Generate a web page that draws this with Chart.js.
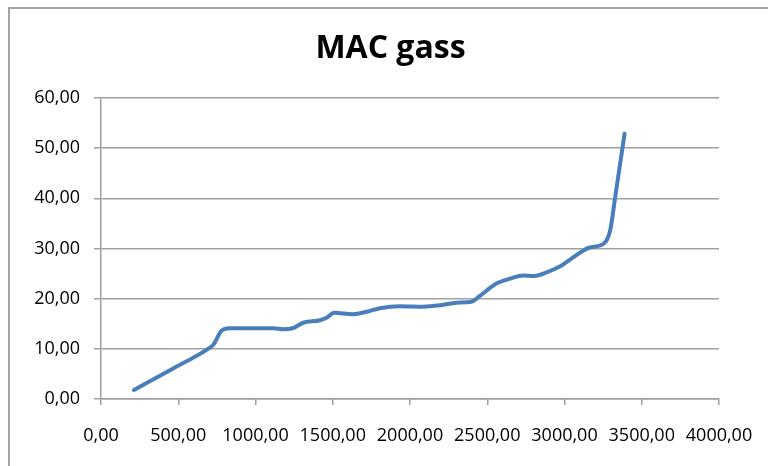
<!DOCTYPE html>
<html>
<head>
<meta charset="utf-8">
<script src="https://cdn.jsdelivr.net/npm/chart.js@4.4.1/dist/chart.umd.min.js"></script>
<style>
  html, body { margin: 0; padding: 0; background: #fff; overflow: hidden; }
  #wrap { position: relative; width: 768px; height: 466px; }
  #frame { position: absolute; left: 8px; top: 7px; width: 900px; height: 600px;
           border: 2px solid #a3a3a3; box-sizing: border-box; pointer-events: none; }
  canvas { position: absolute; left: 0; top: 0; }
</style>
</head>
<body>
<div id="wrap">
  <canvas id="c" width="768" height="466"></canvas>
  <div id="frame"></div>
</div>
<script>
const chartTitle = 'MAC gass';
const xValues = [213, 450, 683, 727, 780, 834, 1000, 1114, 1180, 1240, 1309, 1417, 1460, 1510, 1630, 1720, 1805, 1934, 2085, 2200, 2300, 2398, 2450, 2559, 2650, 2732, 2800, 2880, 2969, 3060, 3163, 3255, 3297, 3325, 3357, 3389];
const yValues = [1.8, 5.8, 9.8, 10.8, 13.6, 14.1, 14.1, 14.1, 13.9, 14.1, 15.2, 15.7, 16.2, 17.2, 16.9, 17.4, 18.1, 18.5, 18.4, 18.7, 19.2, 19.4, 20.5, 23.0, 24.0, 24.6, 24.5, 25.2, 26.4, 28.3, 30.2, 31.0, 33.8, 39.6, 46.3, 52.9];
const xTickValues = [0, 500, 1000, 1500, 2000, 2500, 3000, 3500, 4000];
const xTickLabels = ['0,00', '500,00', '1000,00', '1500,00', '2000,00', '2500,00', '3000,00', '3500,00', '4000,00'];
const yTickValues = [0, 10, 20, 30, 40, 50, 60];
const yTickLabels = ['0,00', '10,00', '20,00', '30,00', '40,00', '50,00', '60,00'];

const points = xValues.map((x, i) => ({ x: x, y: yValues[i] }));
const tickFont = { family: 'Open Sans', size: 18 };
const axisGray = '#a0a0a0';

// shift the title box so that it sits centred where the original has it
const titleShift = {
  id: 'titleShift',
  afterLayout(chart) {
    const t = chart.titleBlock;
    if (t) { t.left += 31; t.right += 31; }
  }
};

new Chart(document.getElementById('c'), {
  type: 'scatter',
  data: {
    datasets: [{
      data: points,
      showLine: true,
      borderColor: '#4a7ebb',
      borderWidth: 4,
      borderCapStyle: 'round',
      borderJoinStyle: 'round',
      pointRadius: 0,
      pointHoverRadius: 0,
      cubicInterpolationMode: 'monotone',
      fill: false
    }]
  },
  plugins: [titleShift],
  options: {
    responsive: false,
    animation: false,
    events: [],
    layout: { padding: { top: 30, left: 0, right: 49, bottom: 0 } },
    plugins: {
      legend: { display: false },
      tooltip: { enabled: false },
      title: {
        display: true,
        text: chartTitle,
        color: '#000',
        font: { family: 'Open Sans', size: 32, weight: 'bold', lineHeight: 1.2 },
        padding: { top: 0, bottom: 29.6 }
      }
    },
    scales: {
      x: {
        type: 'linear',
        min: 0, max: 4000,
        afterBuildTicks: (s) => { s.ticks = xTickValues.map(v => ({ value: v })); },
        afterFit: (s) => { s.height = 67; s.paddingRight = 30; s.paddingLeft = 0; },
        ticks: {
          color: '#000',
          font: tickFont,
          padding: 20,
          maxRotation: 0,
          autoSkip: false,
          callback: (v) => { const i = xTickValues.indexOf(v); return i >= 0 ? xTickLabels[i] : ''; }
        },
        grid: { drawOnChartArea: false, drawTicks: true, tickLength: 6, color: axisGray, lineWidth: 1.5 },
        border: { display: true, color: axisGray, width: 1.5 }
      },
      y: {
        type: 'linear',
        min: 0, max: 60,
        afterBuildTicks: (s) => { s.ticks = yTickValues.map(v => ({ value: v })); },
        afterFit: (s) => { s.width = 101; },
        ticks: {
          color: '#000',
          font: tickFont,
          padding: 14,
          autoSkip: false,
          callback: (v) => { const i = yTickValues.indexOf(v); return i >= 0 ? yTickLabels[i] : ''; }
        },
        grid: { drawOnChartArea: true, drawTicks: true, tickLength: 7, color: axisGray, lineWidth: 1.5 },
        border: { display: true, color: axisGray, width: 1.5 }
      }
    }
  }
});
</script>
</body>
</html>
